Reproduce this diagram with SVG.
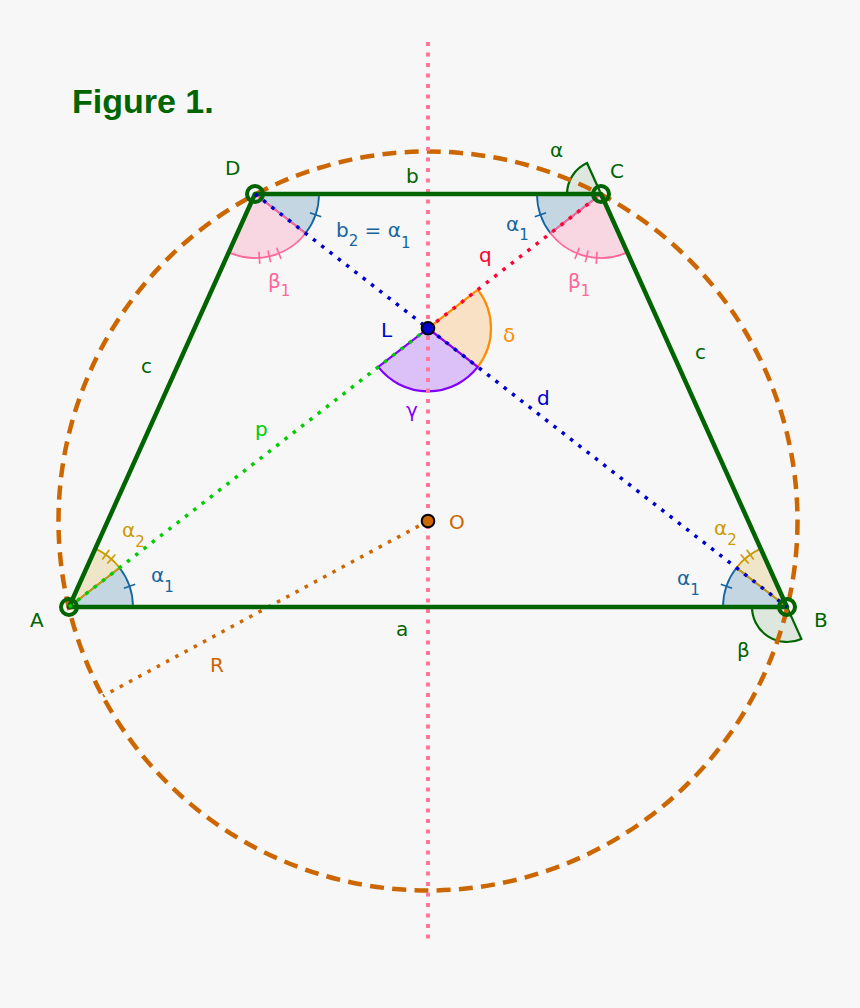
<svg xmlns="http://www.w3.org/2000/svg" width="860" height="1008" viewBox="0 0 860 1008">
<style>
text{font-family:"DejaVu Sans","Liberation Sans",sans-serif;font-size:20px}
.sub{font-size:15px}
.g{fill:#006400}
.bl{fill:#1565A0}
.pk{fill:#FF6699}
.yl{fill:#CC9900}
.or{fill:#CC6600}
.tick{stroke-width:1.6;fill:none}
.tb{stroke:#1565A0}
.ty{stroke:#CC9900}
.tp{stroke:#FF6699}
</style>
<rect width="860" height="1008" fill="#F7F7F7"/>
<g id="sectors" stroke-width="1.8">
<path id="A-alpha1" d="M69,607 L133,607 A64,64 0 0 0 119.55,567.76 Z" fill="#1565A0" fill-opacity="0.22" stroke="#1565A0"/>
<path id="A-alpha2" d="M69,607 L119.55,567.76 A64,64 0 0 0 95.28,548.64 Z" fill="#CC9900" fill-opacity="0.18" stroke="#CC9900"/>
<path id="B-alpha1" d="M787,607 L723,607 A64,64 0 0 1 736.45,567.76 Z" fill="#1565A0" fill-opacity="0.22" stroke="#1565A0"/>
<path id="B-alpha2" d="M787,607 L736.45,567.76 A64,64 0 0 1 760.72,548.64 Z" fill="#CC9900" fill-opacity="0.18" stroke="#CC9900"/>
<path id="B-beta" d="M787,607 L752,607 A35,35 0 0 0 801.37,638.91 Z" fill="#006400" fill-opacity="0.1" stroke="#006400" stroke-width="2.2"/>
<path id="C-alpha" d="M601,194 L567,194 A34,34 0 0 1 587.04,163 Z" fill="#006400" fill-opacity="0.1" stroke="#006400" stroke-width="2.2"/>
<path id="C-alpha1" d="M601,194 L537,194 A64,64 0 0 0 550.45,233.24 Z" fill="#1565A0" fill-opacity="0.22" stroke="#1565A0"/>
<path id="C-beta1" d="M601,194 L550.45,233.24 A64,64 0 0 0 627.28,252.36 Z" fill="#FF6699" fill-opacity="0.22" stroke="#FF6699"/>
<path id="D-alpha1" d="M255,194 L319,194 A64,64 0 0 1 305.55,233.24 Z" fill="#1565A0" fill-opacity="0.22" stroke="#1565A0"/>
<path id="D-beta1" d="M255,194 L305.55,233.24 A64,64 0 0 1 228.72,252.36 Z" fill="#FF6699" fill-opacity="0.22" stroke="#FF6699"/>
<path id="L-delta" d="M428,328.3 L477.76,289.67 A63,63 0 0 1 477.76,366.93 Z" fill="#FF8C00" fill-opacity="0.2" stroke="#FF8C00" stroke-width="2.2"/>
<path id="L-gamma" d="M428,328.3 L477.76,366.93 A63,63 0 0 1 378.24,366.93 Z" fill="#8000FF" fill-opacity="0.22" stroke="#8000FF" stroke-width="2.2"/>
</g>
<g id="ticks" class="tick">
<line class="tb" x1="58" x2="70" transform="translate(69 607) rotate(-18.91)"/>
<line class="tb" x1="58" x2="70" transform="translate(787 607) rotate(198.91)"/>
<line class="tb" x1="58" x2="70" transform="translate(601 194) rotate(161.09)"/>
<line class="tb" x1="58" x2="70" transform="translate(255 194) rotate(18.91)"/>
<line class="ty" x1="58" x2="70" transform="translate(69 607) rotate(-48.6)"/>
<line class="ty" x1="58" x2="70" transform="translate(69 607) rotate(-54.9)"/>
<line class="ty" x1="58" x2="70" transform="translate(787 607) rotate(228.6)"/>
<line class="ty" x1="58" x2="70" transform="translate(787 607) rotate(234.9)"/>
<line class="tp" x1="58" x2="70" transform="translate(601 194) rotate(93.9)"/>
<line class="tp" x1="58" x2="70" transform="translate(601 194) rotate(102.9)"/>
<line class="tp" x1="58" x2="70" transform="translate(601 194) rotate(111.9)"/>
<line class="tp" x1="58" x2="70" transform="translate(255 194) rotate(68.1)"/>
<line class="tp" x1="58" x2="70" transform="translate(255 194) rotate(77.1)"/>
<line class="tp" x1="58" x2="70" transform="translate(255 194) rotate(86.1)"/>
</g>
<g id="connectors" fill="none">
<circle id="circumcircle" cx="428" cy="521" r="369.5" stroke="#CC6600" stroke-width="4.5" stroke-dasharray="14 8.3"/>
<line id="axis" x1="428" y1="42" x2="428" y2="942" stroke="#FF7799" stroke-width="4" stroke-dasharray="4 6.5"/>
<line id="R" x1="428" y1="521" x2="103" y2="696" stroke="#CC6600" stroke-width="3.5" stroke-dasharray="3.5 7"/>
<polygon id="trapezoid" points="69,607 787,607 601,194 255,194" stroke="#006400" stroke-width="4.5" stroke-linejoin="round"/>
<line id="p" x1="69" y1="607" x2="428" y2="328.3" stroke="#00CC00" stroke-width="3.5" stroke-dasharray="3.5 7"/>
<line id="q" x1="428" y1="328.3" x2="601" y2="194" stroke="#FF0033" stroke-width="3.5" stroke-dasharray="3.5 7"/>
<line id="d" x1="255" y1="194" x2="787" y2="607" stroke="#0000CC" stroke-width="3.5" stroke-dasharray="3.5 7"/>
</g>
<g id="node-A"><circle cx="69" cy="607" r="8" fill="none" stroke="#006400" stroke-width="4"/><text x="30" y="627" class="g">A</text></g>
<g id="node-B"><circle cx="787" cy="607" r="8" fill="none" stroke="#006400" stroke-width="4"/><text x="814" y="627" class="g">B</text></g>
<g id="node-C"><circle cx="601" cy="194" r="8" fill="none" stroke="#006400" stroke-width="4"/><text x="610" y="178" class="g">C</text></g>
<g id="node-D"><circle cx="255" cy="194" r="8" fill="none" stroke="#006400" stroke-width="4"/><text x="225" y="175" class="g">D</text></g>
<g id="node-L"><circle cx="428" cy="328.3" r="6.3" fill="#0000CC" stroke="#000" stroke-width="2"/><text x="381" y="337" fill="#0000CC">L</text></g>
<g id="node-O"><circle cx="428" cy="521" r="6.3" fill="#CC6600" stroke="#000" stroke-width="2"/><text x="449" y="529" class="or">O</text></g>
<g id="labels">
<text x="72" y="113" class="g" style="font-family:'Liberation Sans',Arial,sans-serif;font-size:34px;font-weight:bold">Figure 1.</text>
<text x="406" y="183" class="g">b</text>
<text x="396" y="636" class="g">a</text>
<text x="141" y="373" class="g">c</text>
<text x="695" y="359" class="g">c</text>
<text x="550" y="157" class="g">α</text>
<text x="737" y="657" class="g">β</text>
<text x="336" y="237" class="bl">b<tspan class="sub" dy="9">2</tspan><tspan dy="-9"> = α</tspan><tspan class="sub" dy="11">1</tspan></text>
<text x="506" y="231" class="bl">α<tspan class="sub" dy="9">1</tspan></text>
<text x="151" y="582" class="bl">α<tspan class="sub" dy="10">1</tspan></text>
<text x="677" y="585" class="bl">α<tspan class="sub" dy="10">1</tspan></text>
<text x="122" y="537" class="yl">α<tspan class="sub" dy="10">2</tspan></text>
<text x="714" y="535" class="yl">α<tspan class="sub" dy="10">2</tspan></text>
<text x="268" y="288" class="pk">β<tspan class="sub" dy="8">1</tspan></text>
<text x="568" y="288" class="pk">β<tspan class="sub" dy="8">1</tspan></text>
<text x="479" y="262" fill="#FF0033">q</text>
<text x="503" y="342" fill="#FF8C00">δ</text>
<text x="537" y="405" fill="#0000CC">d</text>
<text x="406" y="417" fill="#8000FF">γ</text>
<text x="255" y="436" fill="#00CC00">p</text>
<text x="210" y="672" class="or">R</text>
</g>
</svg>
